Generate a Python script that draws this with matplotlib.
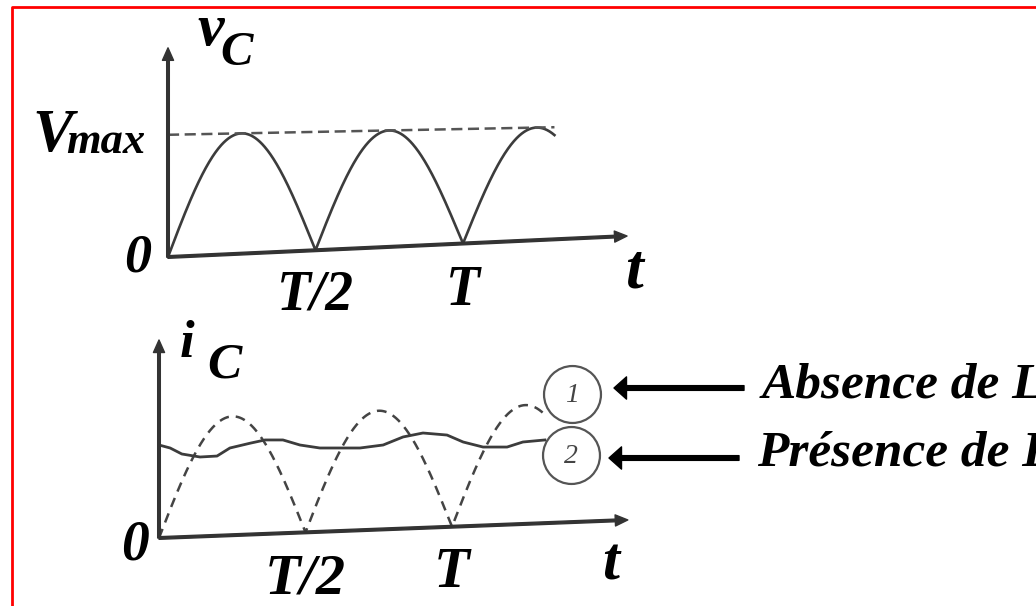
import numpy as np
import matplotlib
matplotlib.use('Agg')
import matplotlib.pyplot as plt

plt.rcParams['font.family'] = ['Liberation Serif', 'DejaVu Serif']
plt.rcParams['lines.scale_dashes'] = False

W, H = 1036, 606

# --- data (time in units of T, amplitude in units of Vmax / Imax) ---
period_ticks = [0.5, 1.0]
tick_labels = ['T/2', 'T']
t_end = 1.31                     # curves stop at the circles
v_max_line = [0.97, 1.03]        # dashed Vmax level at t=0 and t=t_end (scan is skewed)
v_axis_tilt = 0.107              # the drawn t-axis climbs a little
i_peak = 0.99
i_axis_tilt = 0.094
# current with inductance (curve 2)
i2_t = [0.0, 0.038, 0.078, 0.14, 0.198, 0.242, 0.311, 0.362, 0.423, 0.481, 0.549,
        0.618, 0.686, 0.765, 0.833, 0.901, 0.983, 1.038, 1.106, 1.188, 1.242, 1.317]
i2_val = [0.775, 0.75, 0.70, 0.675, 0.683, 0.75, 0.79, 0.817, 0.817, 0.775, 0.75,
          0.75, 0.75, 0.775, 0.842, 0.875, 0.858, 0.80, 0.758, 0.758, 0.80, 0.817]
legend_labels = ['Absence de L', 'Présence de L']
circle_ids = ['1', '2']

CURVE = '#3c3c3c'
AXIS = '#333333'
txt = dict(style='italic', weight='bold', color='black', va='baseline')

fig = plt.figure(figsize=(W / 100, H / 100), dpi=100)


def panel(x0, y0, sx, sy):
    ax = fig.add_axes([0, 0, 1, 1])
    ax.set_xlim(-x0 / sx, (W - x0) / sx)
    ax.set_ylim((y0 - H) / sy, y0 / sy)
    ax.set_axis_off()
    ax.patch.set_visible(False)
    return ax


def axis_arrow(ax, tip, tail=(0, 0)):
    ax.annotate('', xy=tip, xytext=tail,
                arrowprops=dict(width=1.9, headwidth=8, headlength=9,
                                color=AXIS, shrink=0))


# overlay in pixel coordinates for the frame and the texts
ov = fig.add_axes([0, 0, 1, 1])
ov.set_xlim(0, W)
ov.set_ylim(H, 0)
ov.set_axis_off()
ov.plot([11.5, 11.5, W], [H, 6.5, 6.5], color='red', lw=2.0, solid_capstyle='butt')

# ---------------- top: capacitor voltage ----------------
ax1 = panel(168, 257, 295, 126)
t = np.linspace(0, t_end, 800)
base = v_axis_tilt * t
top = v_max_line[0] + (v_max_line[1] - v_max_line[0]) * t / t_end
vc = base + (top - base) * np.abs(np.sin(2 * np.pi * t))
ax1.plot(t, vc, color=CURVE, lw=1.9)
ax1.plot([0, t_end], v_max_line, color='#555555', lw=1.8, dashes=(8, 4))
axis_arrow(ax1, (0, 1.66))
axis_arrow(ax1, (1.556, v_axis_tilt * 1.556))
for tk, lab, y in zip(period_ticks, tick_labels, [-0.42, -0.38]):
    ax1.text(tk, y, lab, ha='center', fontsize=40, **txt)

ov.text(197, 45, 'v', fontsize=43, **txt)
ov.text(220, 65, 'C', fontsize=35, **txt)
ov.text(32, 151, 'V', fontsize=44, **txt)
ov.text(66, 153, 'max', fontsize=32, **txt)
ov.text(124, 271, '0', fontsize=39, **txt)
ov.text(625, 287, 't', fontsize=46, **txt)

# ---------------- bottom: capacitor current ----------------
ax2 = panel(159, 538, 293, 120)
i1 = i_axis_tilt * t + i_peak * np.abs(np.sin(2 * np.pi * t))
ax2.plot(t, i1, color='#444444', lw=1.8, dashes=(7, 5))
ax2.plot(i2_t, i2_val, color=CURVE, lw=2.0, solid_joinstyle='round')
axis_arrow(ax2, (0, 1.65))
axis_arrow(ax2, (1.6, i_axis_tilt * 1.6))
for tk, lab, y in zip(period_ticks, tick_labels, [-0.46, -0.41]):
    ax2.text(tk, y, lab, ha='center', fontsize=42, **txt)

ov.text(180, 357, 'i', fontsize=38, **txt)
ov.text(207, 377, 'C', fontsize=37, **txt)
ov.text(121, 560, '0', fontsize=40, **txt)
ov.text(602, 580, 't', fontsize=44, **txt)

# numbered circles, arrows and captions
for (cx, cy), cid, lab, ay, ty, tx in zip([(572, 394), (571, 455)], circle_ids,
                                          legend_labels, [388, 458], [398, 465], [762, 757]):
    ov.plot(cx, cy, 'o', ms=41, mfc='none', mec='#555555', mew=1.6)
    ov.text(cx, cy + 8, cid, fontsize=20, style='italic', color='#444444',
            ha='center', va='baseline')
    ov.annotate('', xy=(tx - 148, ay), xytext=(tx - 18, ay),
                arrowprops=dict(width=3.4, headwidth=16, headlength=9,
                                color='black', shrink=0))
    ov.text(tx, ty, lab, fontsize=37, **txt)

fig.savefig('out.png', dpi=100)
